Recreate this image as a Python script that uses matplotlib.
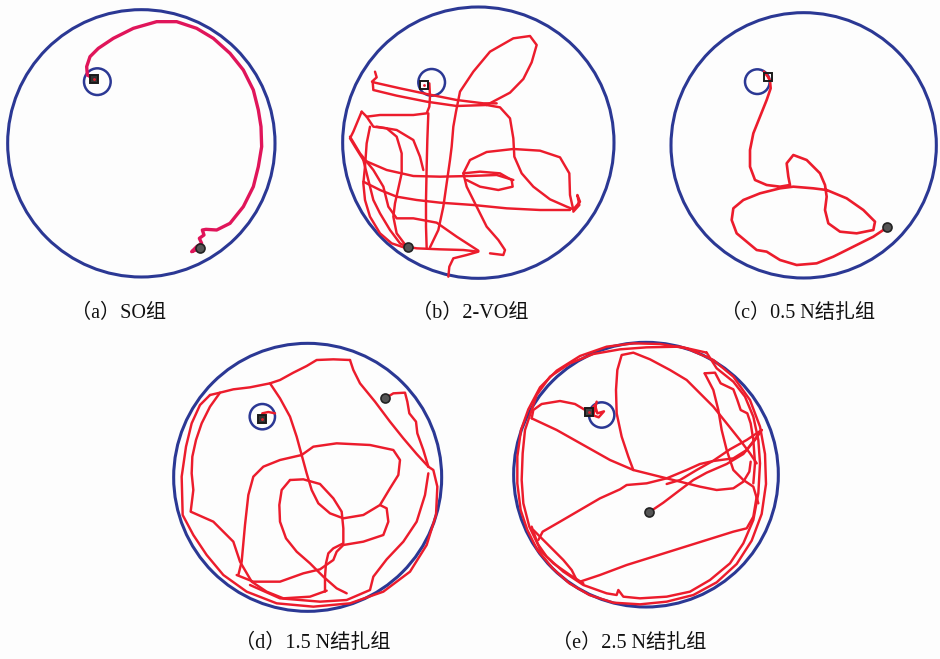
import matplotlib
matplotlib.use('Agg')
import matplotlib.pyplot as plt
from matplotlib.patches import Circle

plt.rcParams['font.family'] = ['Liberation Serif', 'Noto Sans CJK SC']

# ---------------- data (panel-local coordinates, 3x crop scale) ----------------
labels = ["（a）SO组", "（b）2-VO组", "（c）0.5 N结扎组", "（d）1.5 N结扎组", "（e）2.5 N结扎组"]

pool_centers = [(424, 430), (445, 428), (491, 436), (443, 442), (438, 434)]
pool_radii = [401, 407, 398, 402, 397]
platform_centers = [(292, 245), (305, 247), (352, 245), (307, 260), (305, 255)]
platform_radii = [40, 40, 37, 38, 38]
start_points = [(600, 745), (235, 740), (742, 682), (676, 205), (447, 547)]
end_points = [(283, 237), (283, 255), (385, 232), (307, 268), (268, 245)]
label_pos = [(357, 940), (422, 940), (475, 940), (457, 940), (387, 940)]

# panel a
a_path = [(600, 745), (575, 755), (590, 740), (605, 730), (598, 715), (612, 705), (607, 690), (618, 688),
          (650, 690), (690, 670), (730, 620), (760, 560), (775, 500), (785, 440), (783, 380), (775, 330),
          (760, 270), (730, 210), (690, 160), (640, 115), (590, 85), (530, 65), (470, 65), (400, 85),
          (340, 115), (295, 145), (270, 170), (260, 200), (262, 225), (283, 237)]

# panel b
b1 = [(298, 250), (300, 290), (298, 320), (290, 340), (250, 345), (200, 345), (150, 345), (110, 350), (95, 335)]
b2 = [(135, 215), (140, 232), (126, 245), (135, 248), (210, 265), (290, 282), (380, 300), (460, 310), (500, 310)]
b3 = [(128, 245), (130, 270), (200, 287), (290, 305), (380, 318), (470, 315)]
b4 = [(470, 315), (540, 278), (580, 237), (605, 187), (620, 135), (600, 108), (550, 115), (480, 155), (430, 215),
      (390, 275), (378, 335), (370, 380), (365, 440), (360, 480), (350, 550), (340, 620), (325, 690), (300, 742)]
b5 = [(470, 315), (510, 322), (540, 355), (550, 415), (553, 470), (575, 520), (610, 560), (660, 598), (710, 620),
      (730, 628), (750, 605), (742, 585), (748, 615), (730, 635)]
b6 = [(730, 630), (720, 585), (718, 520), (690, 472), (630, 452), (550, 447), (470, 456), (420, 480), (400, 520),
      (410, 560), (440, 620), (470, 680), (505, 720), (525, 750), (520, 765), (480, 760)]
b7 = [(400, 520), (450, 515), (510, 520), (545, 540), (548, 560), (505, 570), (450, 560), (410, 540)]
b8 = [(100, 480), (170, 510), (250, 528), (330, 530), (420, 528), (500, 525), (550, 540)]
b9 = [(100, 545), (150, 570), (200, 590), (260, 600), (330, 608), (430, 615), (530, 625), (630, 630), (720, 630)]
b10 = [(295, 340), (292, 420), (290, 500), (288, 600), (288, 680), (290, 745)]
b11 = [(230, 740), (260, 745), (330, 748), (400, 750), (445, 755), (410, 765), (370, 775), (358, 800), (355, 830)]
b12 = [(95, 335), (70, 395), (60, 415), (75, 440), (100, 480), (110, 520), (120, 560), (130, 600), (150, 640),
       (180, 690), (210, 730), (230, 740)]
b13 = [(110, 350), (130, 380), (170, 385), (200, 410), (215, 460), (215, 520), (205, 565), (195, 610), (190, 650),
       (200, 700), (230, 740)]
b14 = [(140, 380), (200, 390), (250, 420), (270, 470), (280, 510)]
b15 = [(120, 380), (110, 430), (105, 500), (100, 550), (105, 600), (120, 650), (150, 700), (185, 730), (230, 745)]
b16 = [(60, 410), (90, 460), (130, 510), (160, 560), (175, 620), (200, 655), (250, 655), (320, 668), (380, 710),
       (445, 752)]
b_strokes = [b1, b2, b3, b4, b5, b6, b7, b8, b9, b10, b11, b12, b13, b14, b15, b16]

# panel c
c_path = [(742, 682), (700, 710), (640, 740), (580, 770), (530, 790), (470, 795), (420, 780), (380, 755),
          (350, 750), (320, 725), (290, 700), (275, 660), (280, 625), (310, 600), (360, 580), (420, 565),
          (460, 560), (520, 565), (560, 570), (620, 595), (670, 630), (705, 665), (700, 690), (650, 700),
          (600, 695), (565, 670), (555, 630), (560, 590), (555, 555), (540, 520), (500, 480), (460, 465),
          (440, 490), (445, 530), (450, 555), (420, 560), (380, 555), (345, 540), (330, 500), (330, 450),
          (340, 400), (360, 350), (380, 300), (392, 265), (390, 242), (385, 232), (372, 215)]

# panel d
d1 = [(676, 205), (700, 190), (735, 188), (742, 215), (748, 250), (768, 275), (772, 310), (790, 360), (805, 410)]
d2 = [(805, 410), (770, 372), (730, 325), (690, 275), (645, 215), (600, 160), (580, 120), (570, 90)]
d3 = [(570, 90), (520, 88), (470, 90), (440, 108), (400, 128), (360, 150), (330, 160), (270, 172), (220, 178),
      (180, 188), (150, 195)]
d4 = [(150, 195), (120, 225), (95, 280), (78, 350), (65, 440), (68, 555), (100, 615), (140, 675), (190, 735),
      (260, 785), (350, 820), (460, 830), (570, 820), (670, 785), (750, 725), (800, 645), (828, 555), (832, 470),
      (820, 420), (805, 410)]
d5 = [(180, 188), (150, 230), (125, 280), (108, 330), (97, 380), (95, 430), (100, 480), (92, 545), (160, 575),
      (220, 635), (240, 695), (275, 755), (320, 785), (370, 805), (450, 800), (500, 782)]
d6 = [(270, 765), (360, 805), (480, 815), (560, 810), (630, 780), (640, 740), (680, 688), (730, 635), (770, 575),
      (795, 495), (805, 430)]
d7 = [(330, 160), (360, 205), (390, 260), (410, 320), (425, 375), (440, 430), (455, 480), (475, 520), (510, 550),
      (550, 565), (610, 555), (660, 525), (690, 475), (715, 435), (720, 390), (700, 360), (630, 345), (530, 340),
      (460, 350), (425, 375), (360, 390), (310, 410), (280, 440), (265, 495), (255, 585), (245, 695), (235, 735)]
d8 = [(307, 268), (307, 250), (325, 246), (345, 250)]
d9 = [(390, 450), (430, 448), (480, 462), (520, 505), (545, 545), (550, 595), (550, 640), (520, 655), (505, 670),
      (498, 700), (495, 740), (495, 785)]
d10 = [(390, 450), (365, 480), (358, 525), (360, 575), (378, 625), (410, 665), (450, 700), (490, 740), (530, 775),
       (560, 790)]
d11 = [(230, 735), (280, 755), (360, 755), (430, 730), (480, 718), (520, 690), (530, 665), (550, 645), (610, 635),
       (670, 615), (685, 575), (680, 535), (660, 525)]
d_strokes = [d1, d2, d3, d4, d5, d6, d7, d8, d9, d10, d11]

# panel e
e1 = [(447, 547), (490, 518), (540, 480), (580, 450), (620, 428), (680, 402), (730, 372), (765, 330), (785, 300)]
e2 = [(560, 55), (480, 42), (400, 40), (320, 50), (240, 78), (170, 122), (120, 172), (85, 238), (63, 300),
      (52, 380), (52, 460), (62, 540), (82, 600), (112, 660), (158, 715), (208, 760), (268, 795), (340, 818),
      (420, 823), (500, 815), (580, 795), (650, 757), (710, 702), (755, 632), (785, 552), (798, 462), (795, 372),
      (780, 290), (750, 210), (700, 140), (640, 90), (560, 55)]
e3 = [(620, 68), (540, 50), (440, 52), (360, 58), (280, 72), (210, 100), (150, 140), (110, 195), (95, 240),
      (75, 300), (68, 370), (65, 450), (70, 520), (88, 590), (112, 640), (140, 680), (190, 725), (250, 765),
      (320, 790), (350, 795), (355, 780), (370, 800), (420, 805), (500, 800), (570, 785), (630, 750), (690, 700),
      (730, 640), (760, 570), (775, 490), (780, 400), (775, 330), (760, 260), (735, 200), (700, 155), (650, 115),
      (620, 68)]
e4 = [(100, 600), (140, 640), (190, 690), (215, 720), (230, 750)]
e5 = [(95, 590), (120, 660), (160, 700), (210, 735), (250, 760)]
e6 = [(95, 265), (100, 240), (125, 222), (180, 213), (225, 222), (252, 238), (268, 245)]
e7 = [(268, 245), (285, 225), (292, 250), (312, 244), (296, 262), (280, 256), (290, 215)]
e8 = [(95, 265), (170, 300), (250, 345), (330, 390), (400, 420), (480, 440), (540, 455), (600, 470), (650, 480),
      (700, 475), (730, 455), (748, 425), (752, 395)]
e9 = [(400, 420), (385, 380), (365, 320), (350, 250), (348, 180), (352, 120), (365, 75), (400, 68), (450, 88),
      (510, 120), (560, 150), (600, 190), (640, 230), (680, 280), (720, 330), (750, 370), (770, 400)]
e10 = [(115, 630), (128, 605), (180, 575), (240, 540), (300, 505), (360, 478), (380, 465), (440, 460), (500, 445),
       (560, 420), (600, 402), (640, 393), (700, 385), (740, 360), (770, 320), (785, 300)]
e11 = [(240, 755), (300, 735), (380, 705), (460, 680), (540, 655), (620, 630), (700, 605), (740, 595), (760, 560),
       (770, 500)]
e12 = [(785, 300), (740, 330), (690, 358), (640, 392), (590, 420), (540, 450), (500, 462)]
e13 = [(614, 130), (640, 180), (655, 240), (665, 300), (680, 360), (700, 420), (730, 450), (760, 470), (775, 520)]
e14 = [(614, 130), (645, 128), (662, 160), (700, 178), (712, 210), (722, 240), (742, 250), (752, 280), (760, 330),
       (765, 400), (760, 460)]
e_strokes = [e1, e2, e3, e4, e5, e6, e7, e8, e9, e10, e11, e12, e13, e14]

panel_strokes = [[a_path], b_strokes, [c_path], d_strokes, e_strokes]

# ---------------- layout / style ----------------
W, H = 940, 659
crops = [(0, 0, 320, 330), (330, 0, 300, 330), (640, 0, 300, 330), (160, 330, 300, 329), (500, 330, 300, 329)]
pool_color = '#2b3894'
red = '#ec1c2c'
path_colors = ['#e0155a', red, red, red, red]
path_widths = [2.4, 1.75, 1.9, 1.75, 1.75]
end_fill = ['#333333', 'none', 'none', '#333333', '#444444']

fig = plt.figure(figsize=(W / 100, H / 100), dpi=100)
fig.patch.set_facecolor('#fdfdfd')

for i, (x0, y0, w, h) in enumerate(crops):
    ax = fig.add_axes([x0 / W, 1 - (y0 + h) / H, w / W, h / H])
    ax.set_xlim(0, 3 * w)
    ax.set_ylim(3 * h, 0)
    ax.axis('off')
    ax.add_patch(Circle(pool_centers[i], pool_radii[i], fill=False, ec=pool_color, lw=2.2))
    for s in panel_strokes[i]:
        xs = [p[0] for p in s]
        ys = [p[1] for p in s]
        ax.plot(xs, ys, color=path_colors[i], lw=path_widths[i],
                solid_joinstyle='round', solid_capstyle='round')
    ax.add_patch(Circle(platform_centers[i], platform_radii[i], fill=False, ec=pool_color, lw=1.8))
    sx, sy = start_points[i]
    ax.plot([sx], [sy], marker='o', ms=6.5, mfc='#555555', mec='#222222', mew=1.2)
    ex, ey = end_points[i]
    ax.plot([ex], [ey], marker='s', ms=5.5, mfc=end_fill[i], mec='#1a1a1a', mew=1.4)
    ax.plot([ex], [ey], marker='o', ms=2, mfc=red, mec='none')
    lx, ly = label_pos[i]
    ax.text(lx, ly, labels[i], ha='center', va='center', fontsize=14.5, color='#111111')

fig.savefig('out.png', dpi=100, facecolor=fig.get_facecolor())
